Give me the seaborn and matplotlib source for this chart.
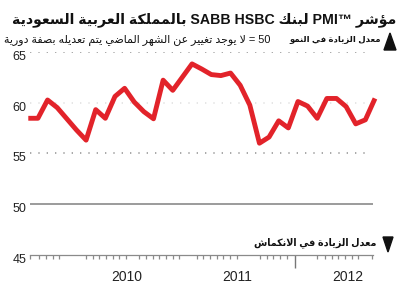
import re
import numpy as np
import pandas as pd
import matplotlib
matplotlib.use("Agg")
import matplotlib.pyplot as plt
import matplotlib.transforms as mtransforms
from matplotlib.patches import Polygon
import seaborn as sns

# ---------------- data ----------------
MONTHS = pd.date_range("2009-08-01", periods=37, freq="MS").strftime("%Y-%m").tolist()
PMI = [58.45, 58.45, 60.25, 59.5, 58.4, 57.3, 56.3, 59.3, 58.45, 60.6,
       61.4, 60.05, 59.1, 58.4, 62.2, 61.2, 62.5, 63.8, 63.3, 62.75,
       62.65, 62.9, 61.7, 59.75, 56.0, 56.6, 58.2, 57.5, 60.1, 59.65,
       58.45, 60.4, 60.4, 59.6, 57.9, 58.3, 60.4]
Y_TICKS = [45, 50, 55, 60, 65]
YEAR_LABELS = ["2010", "2011", "2012"]
YEAR_POS = [10.25, 21.7, 33.2]
X_MINOR = [0.18, 1.14, 1.84, 2.53, 3.22, 5.99, 6.69, 7.37, 8.07, 8.76, 9.45, 10.15,
           11.53, 12.22, 12.92, 13.60, 14.30, 15.00, 15.68, 17.49, 18.17, 18.87,
           19.56, 20.25, 20.95, 21.64, 24.06, 24.76, 25.44, 26.14, 26.83, 29.95,
           30.81, 31.50, 32.19, 32.89, 33.58, 34.27, 35.66]
X_BIG = 27.69

TITLE = "مؤشر PMI™ لبنك SABB HSBC بالمملكة العربية السعودية"
UP_LABEL = "معدل الزيادة في النمو"
NOTE = "50 = لا يوجد تغيير عن الشهر الماضي يتم تعديله بصفة دورية"
DOWN_LABEL = "معدل الزيادة في الانكماش"

# ---------------- arabic shaping (presentation forms) ----------------
FORMS = {
    'ا': (0xFE8D, 0xFE8E, None, None), 'أ': (0xFE83, 0xFE84, None, None),
    'إ': (0xFE87, 0xFE88, None, None), 'آ': (0xFE81, 0xFE82, None, None),
    'ؤ': (0xFE85, 0xFE86, None, None), 'ئ': (0xFE89, 0xFE8A, 0xFE8B, 0xFE8C),
    'ب': (0xFE8F, 0xFE90, 0xFE91, 0xFE92), 'ة': (0xFE93, 0xFE94, None, None),
    'ت': (0xFE95, 0xFE96, 0xFE97, 0xFE98), 'ث': (0xFE99, 0xFE9A, 0xFE9B, 0xFE9C),
    'ج': (0xFE9D, 0xFE9E, 0xFE9F, 0xFEA0), 'ح': (0xFEA1, 0xFEA2, 0xFEA3, 0xFEA4),
    'خ': (0xFEA5, 0xFEA6, 0xFEA7, 0xFEA8), 'د': (0xFEA9, 0xFEAA, None, None),
    'ذ': (0xFEAB, 0xFEAC, None, None), 'ر': (0xFEAD, 0xFEAE, None, None),
    'ز': (0xFEAF, 0xFEB0, None, None), 'س': (0xFEB1, 0xFEB2, 0xFEB3, 0xFEB4),
    'ش': (0xFEB5, 0xFEB6, 0xFEB7, 0xFEB8), 'ص': (0xFEB9, 0xFEBA, 0xFEBB, 0xFEBC),
    'ض': (0xFEBD, 0xFEBE, 0xFEBF, 0xFEC0), 'ط': (0xFEC1, 0xFEC2, 0xFEC3, 0xFEC4),
    'ظ': (0xFEC5, 0xFEC6, 0xFEC7, 0xFEC8), 'ع': (0xFEC9, 0xFECA, 0xFECB, 0xFECC),
    'غ': (0xFECD, 0xFECE, 0xFECF, 0xFED0), 'ف': (0xFED1, 0xFED2, 0xFED3, 0xFED4),
    'ق': (0xFED5, 0xFED6, 0xFED7, 0xFED8), 'ك': (0xFED9, 0xFEDA, 0xFEDB, 0xFEDC),
    'ل': (0xFEDD, 0xFEDE, 0xFEDF, 0xFEE0), 'م': (0xFEE1, 0xFEE2, 0xFEE3, 0xFEE4),
    'ن': (0xFEE5, 0xFEE6, 0xFEE7, 0xFEE8), 'ه': (0xFEE9, 0xFEEA, 0xFEEB, 0xFEEC),
    'و': (0xFEED, 0xFEEE, None, None), 'ى': (0xFEEF, 0xFEF0, None, None),
    'ي': (0xFEF1, 0xFEF2, 0xFEF3, 0xFEF4),
}
LAM_ALEF = {'ا': (0xFEFB, 0xFEFC), 'أ': (0xFEF7, 0xFEF8),
            'إ': (0xFEF9, 0xFEFA), 'آ': (0xFEF5, 0xFEF6)}


def shape(s):
    out, i, n, prev_join = [], 0, len(s), False
    while i < n:
        c = s[i]
        if c not in FORMS:
            out.append(c); prev_join = False; i += 1; continue
        nxt = s[i + 1] if i + 1 < n else ''
        if c == 'ل' and nxt in LAM_ALEF:
            iso, fin = LAM_ALEF[nxt]
            out.append(chr(fin if prev_join else iso)); prev_join = False; i += 2; continue
        iso, fin, ini, med = FORMS[c]
        next_join = ini is not None and nxt in FORMS
        if prev_join and next_join:
            g = med
        elif prev_join:
            g = fin
        elif next_join:
            g = ini
        else:
            g = iso
        out.append(chr(g)); prev_join = next_join; i += 1
    return ''.join(out)


LTR = re.compile(r"[A-Za-z0-9™]+(?: [A-Za-z0-9™]+)*")


def visual(s):
    runs, pos = [], 0
    for m in LTR.finditer(s):
        if m.start() > pos:
            runs.append((s[pos:m.start()], False))
        runs.append((m.group(), True))
        pos = m.end()
    if pos < len(s):
        runs.append((s[pos:], False))
    return ''.join(r if ltr else shape(r)[::-1] for r, ltr in reversed(runs))


# ---------------- figure ----------------
sns.set_theme(style="white")
FAM = ["Liberation Sans", "DejaVu Sans"]
plt.rcParams["font.family"] = FAM

W, H = 400, 288
fig = plt.figure(figsize=(4, 2.88), dpi=100)
fig.patch.set_facecolor("white")


def fx(px):
    return px / W


def fy(py):
    return 1 - py / H


ax = fig.add_axes([fx(28.3), fy(255), fx(375) - fx(28.3), fy(51.7) - fy(255)])
ax.set_facecolor("white")

df = pd.DataFrame({"x": np.arange(len(PMI)), "month": MONTHS, "pmi": PMI})

# reference lines
ax.hlines([65, 55], 0.2, 35.3, colors="#9a9a9a", linestyles=[(0, (0.8, 4.2))], lw=1.2)
ax.hlines([60], 0.2, 35.3, colors="#e2e2e2", linestyles=[(0, (0.8, 4.2))], lw=1.2)
ax.hlines([50], 0.18, 35.8, colors="#8a8a8a", lw=1.2)

sns.lineplot(data=df, x="x", y="pmi", color="#e2232a", lw=3.5, ax=ax,
             solid_joinstyle="round", solid_capstyle="butt", clip_on=False, zorder=5)

ax.set_xlim(0, 36)
ax.set_ylim(45, 65)
ax.set_xlabel("")
ax.set_ylabel("")
for s in ["top", "right", "left"]:
    ax.spines[s].set_visible(False)
ax.spines["bottom"].set_color("#8a8a8a")
ax.spines["bottom"].set_linewidth(0.9)
ax.spines["bottom"].set_bounds(0.18, 35.8)

ax.set_yticks(Y_TICKS)
ax.set_yticklabels([str(v) for v in Y_TICKS])
ax.tick_params(axis="y", left=True, length=0, pad=1.5, labelsize=9, labelcolor="#222222")
off = mtransforms.ScaledTranslation(0, -3.5 / 100, fig.dpi_scale_trans)
for lab in ax.get_yticklabels():
    lab.set_transform(lab.get_transform() + off)

ax.set_xticks(YEAR_POS)
ax.set_xticklabels(YEAR_LABELS)
ax.set_xticks(X_MINOR, minor=True)
ax.tick_params(axis="x", which="major", bottom=True, length=0, pad=11,
               labelsize=10, labelcolor="#222222")
ax.tick_params(axis="x", which="minor", bottom=True, length=3.2, width=0.9,
               color="#8a8a8a", direction="out")
ax.vlines([X_BIG], 45 - 13 * 20 / 203.3, 45, colors="#777777", lw=1.0, clip_on=False)


# ---------------- texts ----------------
def fit_text(txt, right_px, cy_px, width_px, weight, fs0):
    t = fig.text(fx(right_px), fy(cy_px), visual(txt), ha="right", va="center",
                 fontsize=fs0, fontweight=weight, family=FAM, color="#111111")
    for _ in range(2):
        fig.canvas.draw()
        w = t.get_window_extent().width
        t.set_fontsize(t.get_fontsize() * width_px / w)
    return t


fit_text(TITLE, 396, 20, 383, "bold", 11.5)
fit_text(UP_LABEL, 381, 40, 90, "bold", 7.5)
fit_text(NOTE, 270, 40, 268, "normal", 7)
fit_text(DOWN_LABEL, 376, 243, 124, "bold", 8)

up = Polygon([[fx(384), fy(50)], [fx(396), fy(50)], [fx(390), fy(33)]],
             closed=True, transform=fig.transFigure, color="#111111")
down = Polygon([[fx(383), fy(237)], [fx(393), fy(237)], [fx(388), fy(252)]],
               closed=True, transform=fig.transFigure, color="#111111")
fig.patches.extend([up, down])

fig.savefig("out.png", dpi=100, facecolor="white")
